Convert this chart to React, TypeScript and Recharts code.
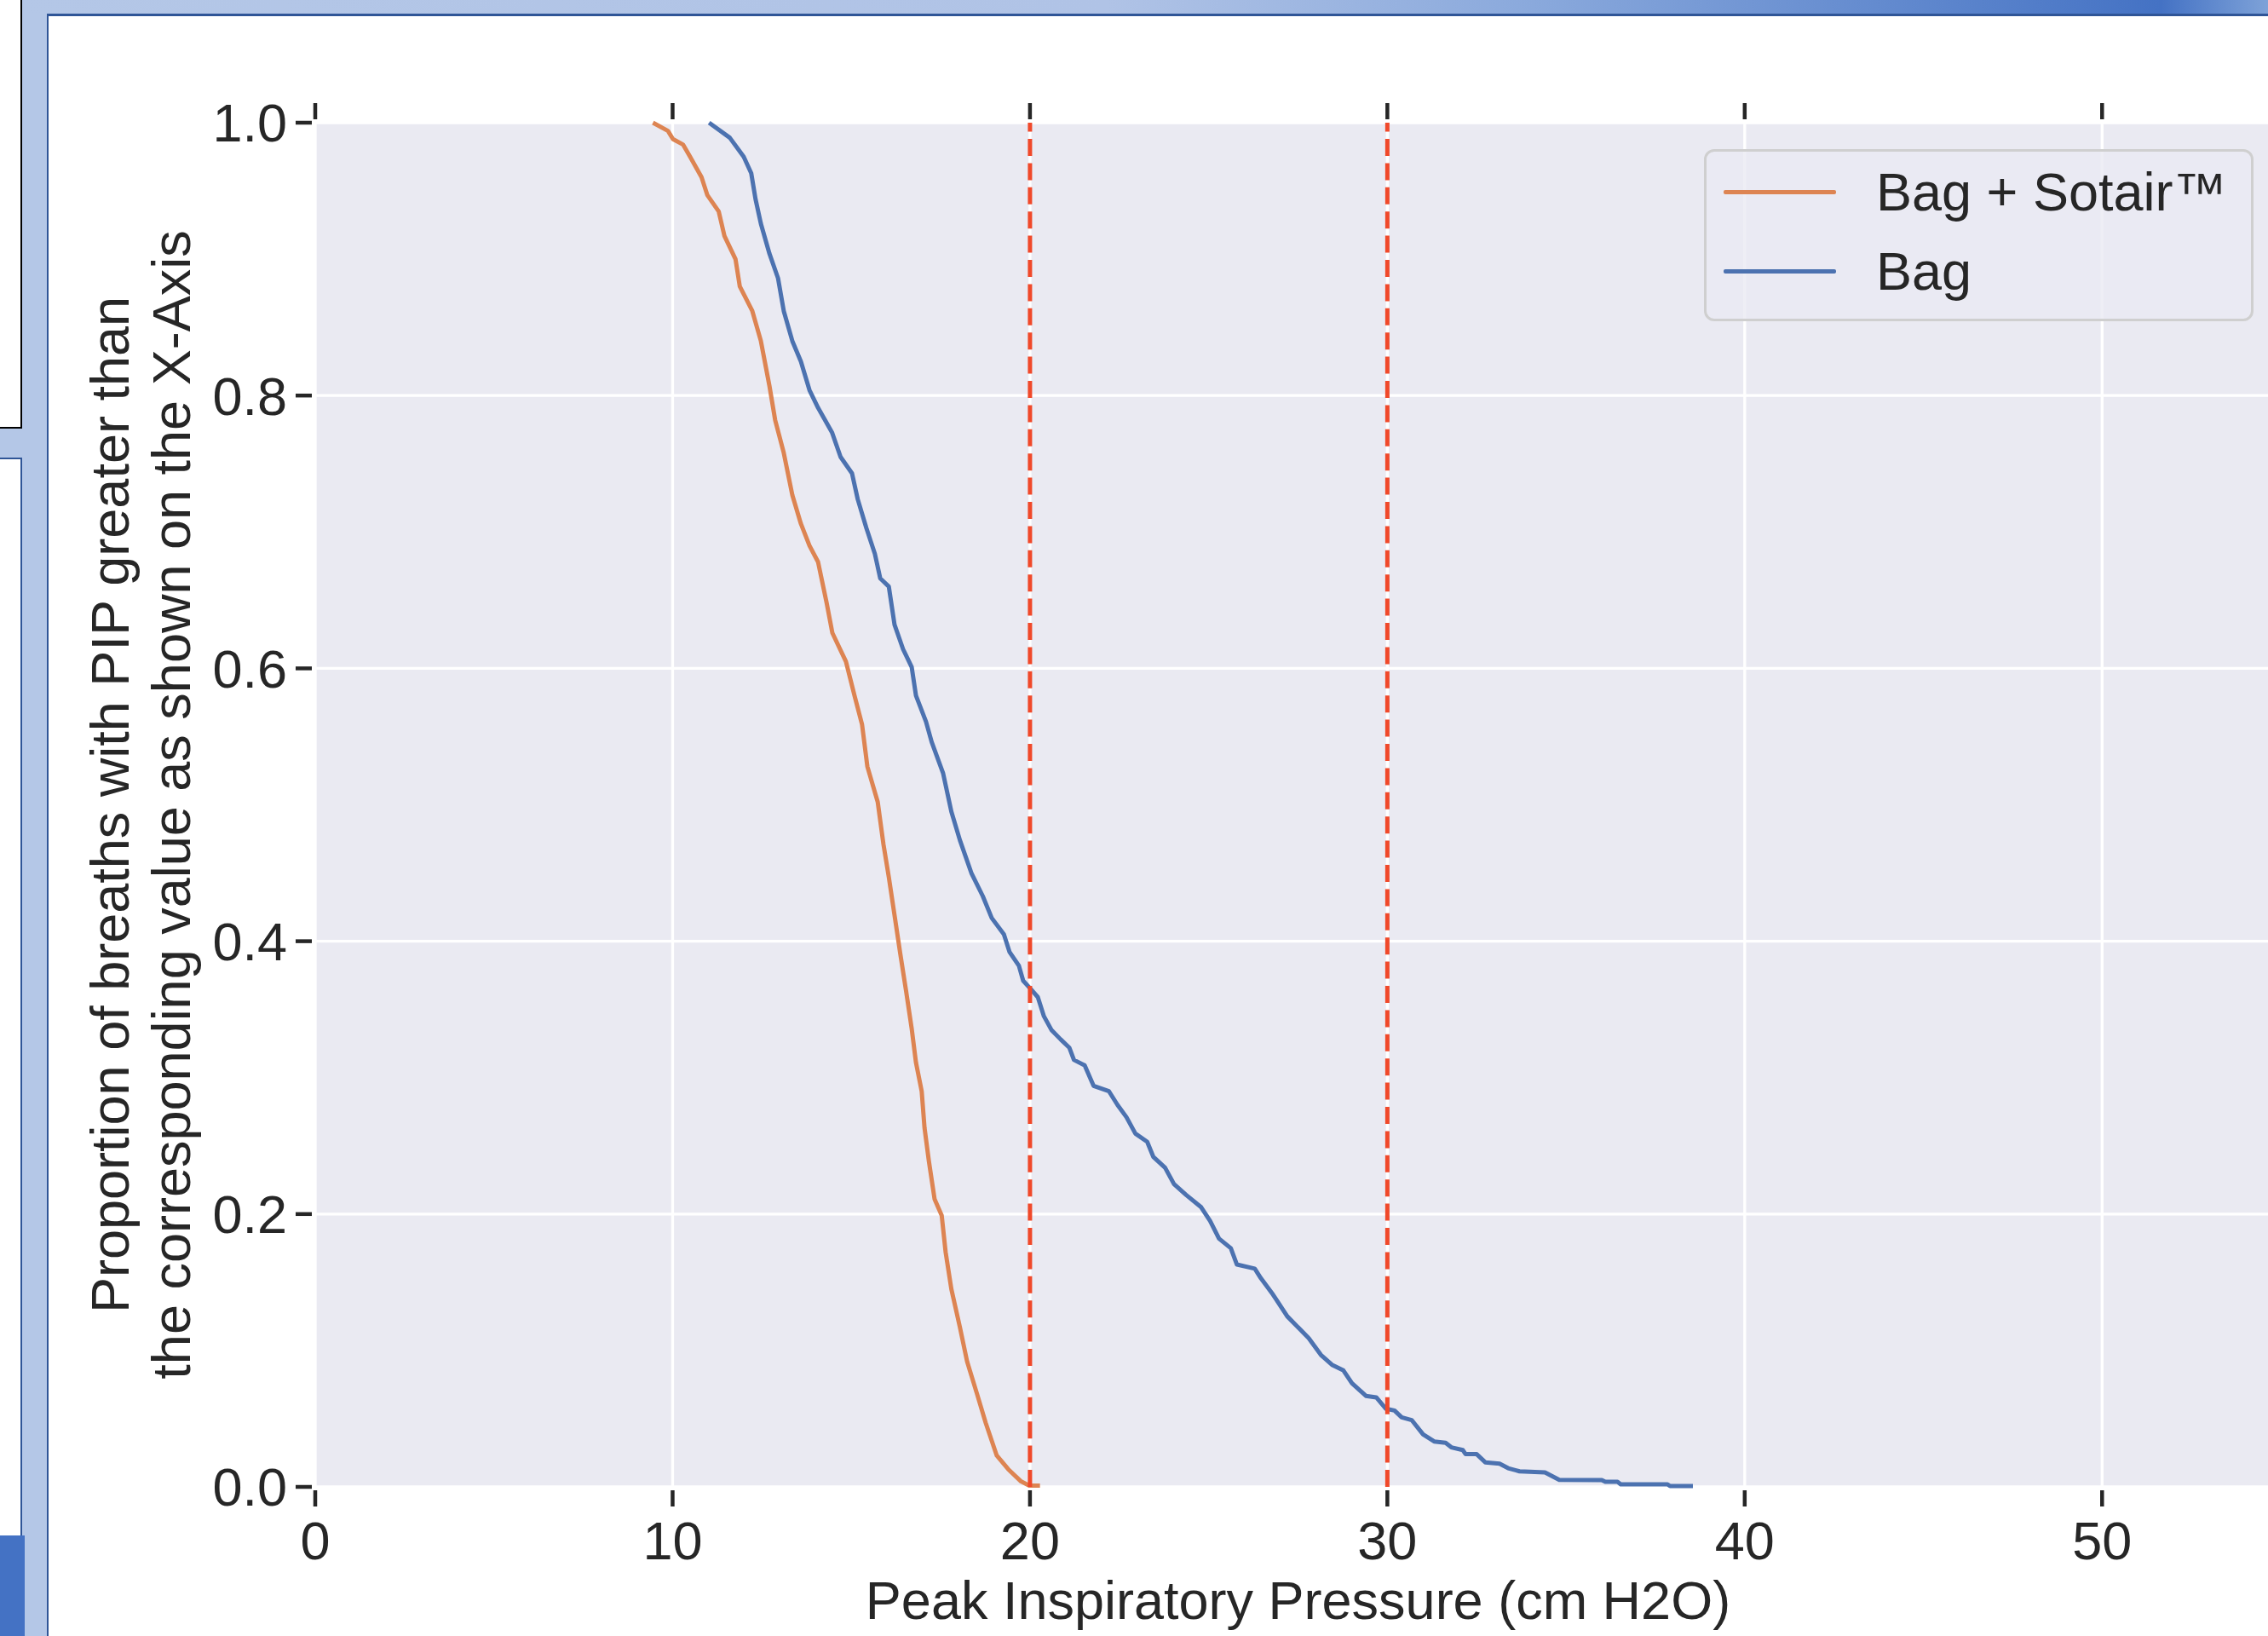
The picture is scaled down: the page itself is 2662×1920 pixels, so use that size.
import React from "react";
import { CartesianGrid, Legend, Line, LineChart, ReferenceLine, XAxis, YAxis } from "recharts";

// values (x = PIP in cm H2O, y = proportion of breaths above x)
const xTicks = [0, 10, 20, 30, 40, 50];
const yTicks = [0, 0.2, 0.4, 0.6, 0.8, 1.0];
const thresholds = [20, 30];

const sotairPoints: [number, number][] = [
  [9.45, 1.0], [9.87, 0.994], [10.01, 0.988], [10.29, 0.984], [10.49, 0.975],
  [10.81, 0.96], [10.97, 0.947], [11.29, 0.935], [11.45, 0.917], [11.76, 0.9],
  [11.88, 0.88], [12.23, 0.862], [12.47, 0.84], [12.71, 0.807], [12.87, 0.782],
  [13.11, 0.758], [13.35, 0.727], [13.59, 0.706], [13.83, 0.69], [14.07, 0.678],
  [14.31, 0.648], [14.47, 0.626], [14.85, 0.605], [15.09, 0.58], [15.3, 0.559],
  [15.45, 0.528], [15.74, 0.502], [15.9, 0.471], [16.05, 0.447], [16.21, 0.419],
  [16.37, 0.391], [16.53, 0.364], [16.69, 0.336], [16.81, 0.311], [16.97, 0.29],
  [17.05, 0.263], [17.17, 0.239], [17.33, 0.211], [17.53, 0.199], [17.64, 0.172],
  [17.8, 0.145], [18.04, 0.117], [18.24, 0.092], [18.52, 0.068], [18.76, 0.047],
  [19.07, 0.023], [19.39, 0.013], [19.75, 0.004], [19.98, 0.001], [20.28, 0.001],
];

const bagPoints: [number, number][] = [
  [11.02, 1.0], [11.6, 0.989], [11.99, 0.975], [12.2, 0.963], [12.32, 0.944],
  [12.47, 0.926], [12.71, 0.904], [12.95, 0.886], [13.11, 0.862], [13.35, 0.84],
  [13.59, 0.825], [13.83, 0.804], [14.07, 0.791], [14.46, 0.773], [14.7, 0.755],
  [15.02, 0.743], [15.18, 0.724], [15.42, 0.703], [15.66, 0.684], [15.81, 0.666],
  [16.05, 0.66], [16.21, 0.632], [16.45, 0.614], [16.69, 0.601], [16.81, 0.58],
  [17.09, 0.561], [17.25, 0.546], [17.57, 0.523], [17.8, 0.495], [18.04, 0.474],
  [18.36, 0.45], [18.68, 0.433], [18.93, 0.417], [19.27, 0.405], [19.43, 0.392],
  [19.69, 0.382], [19.81, 0.371], [20.02, 0.365], [20.22, 0.359], [20.39, 0.345],
  [20.6, 0.335], [20.86, 0.328], [21.1, 0.322], [21.23, 0.313], [21.53, 0.309],
  [21.78, 0.294], [22.21, 0.29], [22.45, 0.28], [22.7, 0.271], [22.95, 0.259],
  [23.28, 0.253], [23.45, 0.242], [23.78, 0.234], [24.03, 0.222], [24.37, 0.214],
  [24.79, 0.205], [25.04, 0.195], [25.29, 0.182], [25.62, 0.175], [25.79, 0.163],
  [26.29, 0.16], [26.46, 0.153], [26.8, 0.141], [27.2, 0.125], [27.8, 0.109],
  [28.14, 0.0968], [28.45, 0.0895], [28.77, 0.0854], [29.01, 0.076], [29.4, 0.0667],
  [29.69, 0.0656], [29.96, 0.0573], [30.2, 0.056], [30.4, 0.051], [30.68, 0.049],
  [31.0, 0.0385], [31.31, 0.0333], [31.63, 0.0323], [31.79, 0.029], [32.11, 0.027],
  [32.19, 0.024], [32.5, 0.024], [32.74, 0.018], [33.14, 0.017], [33.38, 0.0137],
  [33.7, 0.0114], [34.41, 0.0106], [34.81, 0.0052], [36.0, 0.005], [36.1, 0.0037],
  [36.44, 0.0037], [36.53, 0.0019], [37.84, 0.0019], [37.91, 0.0006], [38.55, 0.0006],
];

const series = [
  { name: "Bag + Sotair™", color: "#dd8452", points: sotairPoints },
  { name: "Bag", color: "#4c72b0", points: bagPoints },
];

const INK = "#262626";
const FONT = 63;
const tickLineStyle = { stroke: INK, strokeWidth: 4.5, strokeDasharray: "19 4" };

const YLabel = ({ viewBox }: any) => {
  const vb = viewBox ?? { x: 250, y: 144, width: 120, height: 1601 };
  const cy = vb.y + vb.height / 2;
  const right = vb.x + vb.width;
  const lines = [
    "Proportion of breaths with PIP greater than",
    "the corresponding value as shown on the X-Axis",
  ];
  return (
    <g>
      {lines.map((t, i) => {
        const cx = right - 242 + i * 72;
        return (
          <text
            key={i}
            x={cx}
            y={cy}
            dy="0.36em"
            textAnchor="middle"
            transform={`rotate(-90 ${cx} ${cy})`}
            fontSize={FONT}
            fill={INK}
          >
            {t}
          </text>
        );
      })}
    </g>
  );
};

const XLabel = ({ viewBox }: any) => {
  const vb = viewBox ?? { x: 370, y: 1745, width: 2307, height: 100 };
  return (
    <text x={vb.x + vb.width / 2} y={vb.y + 155} textAnchor="middle" fontSize={FONT} fill={INK}>
      Peak Inspiratory Pressure (cm H2O)
    </text>
  );
};

const seriesOrder = series.map((s) => s.name);

const LegendBox = ({ payload }: any) => {
  const items = [...(payload || [])].sort(
    (a: any, b: any) => seriesOrder.indexOf(a.value) - seriesOrder.indexOf(b.value)
  );
  return (
    <div
      style={{
        width: 645,
        height: 202,
        boxSizing: "border-box",
        border: "3px solid #cfcfcf",
        borderRadius: 12,
        background: "rgba(234,234,242,0.8)",
        paddingTop: 1,
      }}
    >
      {items.map((p: any) => (
        <div key={p.value} style={{ display: "flex", alignItems: "center", height: 93 }}>
          <span
            style={{ marginLeft: 20, width: 132, height: 5, background: p.color, borderRadius: 2 }}
          />
          <span style={{ marginLeft: 47, fontSize: FONT, lineHeight: 1, color: INK }}>{p.value}</span>
        </div>
      ))}
    </div>
  );
};

// window chrome around the screenshot
const Frame = () => (
  <>
    <div style={{ position: "absolute", left: 0, top: 0, width: 57, height: 1920, background: "#b4c7e7" }} />
    <div
      style={{
        position: "absolute",
        left: 0,
        top: 0,
        width: 2662,
        height: 17,
        background:
          "linear-gradient(to right, #b4c7e7 0px, #b0c3e6 1300px, #8aa9dc 1800px, #4472c4 2536px, #4f7bc8 2560px, #7ea2d8 2662px)",
      }}
    />
    <div style={{ position: "absolute", left: 55, top: 16, width: 2607, height: 3, background: "#2f5597" }} />
    <div style={{ position: "absolute", left: 55, top: 16, width: 2, height: 1904, background: "#2f5597" }} />
    <div
      style={{
        position: "absolute",
        left: 0,
        top: 0,
        width: 24,
        height: 501,
        background: "#fff",
        borderRight: "2px solid #000",
        borderBottom: "2px solid #000",
      }}
    />
    <div
      style={{
        position: "absolute",
        left: 0,
        top: 537,
        width: 24,
        height: 1265,
        background: "#fff",
        borderRight: "2px solid #2f5597",
        borderTop: "2px solid #2f5597",
      }}
    />
    <div style={{ position: "absolute", left: 0, top: 1802, width: 29, height: 118, background: "#4472c4" }} />
  </>
);

export default function App() {
  return (
    <div
      style={{
        position: "absolute",
        left: 0,
        top: 0,
        width: 2662,
        height: 1920,
        overflow: "hidden",
        background: "#ffffff",
        fontFamily: '"Liberation Sans", Arial, sans-serif',
      }}
    >
      <LineChart width={2677} height={1920} margin={{ top: 114, right: 0, bottom: 75, left: 250 }}>
        <CartesianGrid stroke="#ffffff" strokeWidth={3.3} fill="#eaeaf2" fillOpacity={1} />
        <XAxis
          type="number"
          dataKey="x"
          domain={[0, 55]}
          ticks={xTicks}
          interval={0}
          allowDataOverflow
          height={100}
          axisLine={false}
          tickLine={tickLineStyle}
          tickSize={23}
          tickMargin={17}
          tick={{ fontSize: FONT, fill: INK }}
          label={{ content: XLabel }}
        />
        <XAxis
          xAxisId="top"
          orientation="top"
          type="number"
          dataKey="x"
          domain={[0, 55]}
          ticks={xTicks}
          interval={0}
          allowDataOverflow
          height={30}
          axisLine={false}
          tickLine={tickLineStyle}
          tickSize={23}
          tickFormatter={() => ""}
        />
        <YAxis
          type="number"
          domain={[0, 1]}
          ticks={yTicks}
          interval={0}
          width={120}
          axisLine={false}
          tickLine={tickLineStyle}
          tickSize={23}
          tickMargin={10}
          tick={{ fontSize: FONT, fill: INK }}
          tickFormatter={(v: number) => v.toFixed(1)}
          label={{ content: YLabel }}
        />
        {series.map((s) => (
          <Line
            key={s.name}
            name={s.name}
            data={s.points.map(([x, y]) => ({ x, y }))}
            dataKey="y"
            type="linear"
            stroke={s.color}
            strokeWidth={5}
            strokeLinejoin="round"
            dot={false}
            activeDot={false}
            isAnimationActive={false}
          />
        ))}
        {thresholds.map((t) => (
          <ReferenceLine key={t} x={t} stroke="#f0492a" strokeWidth={5} strokeDasharray="20 8.4" />
        ))}
        <Legend
          layout="vertical"
          align="center"
          verticalAlign="middle"
          content={LegendBox}
          wrapperStyle={{ left: 2000, top: 175, width: 645 }}
        />
      </LineChart>
      <Frame />
    </div>
  );
}
